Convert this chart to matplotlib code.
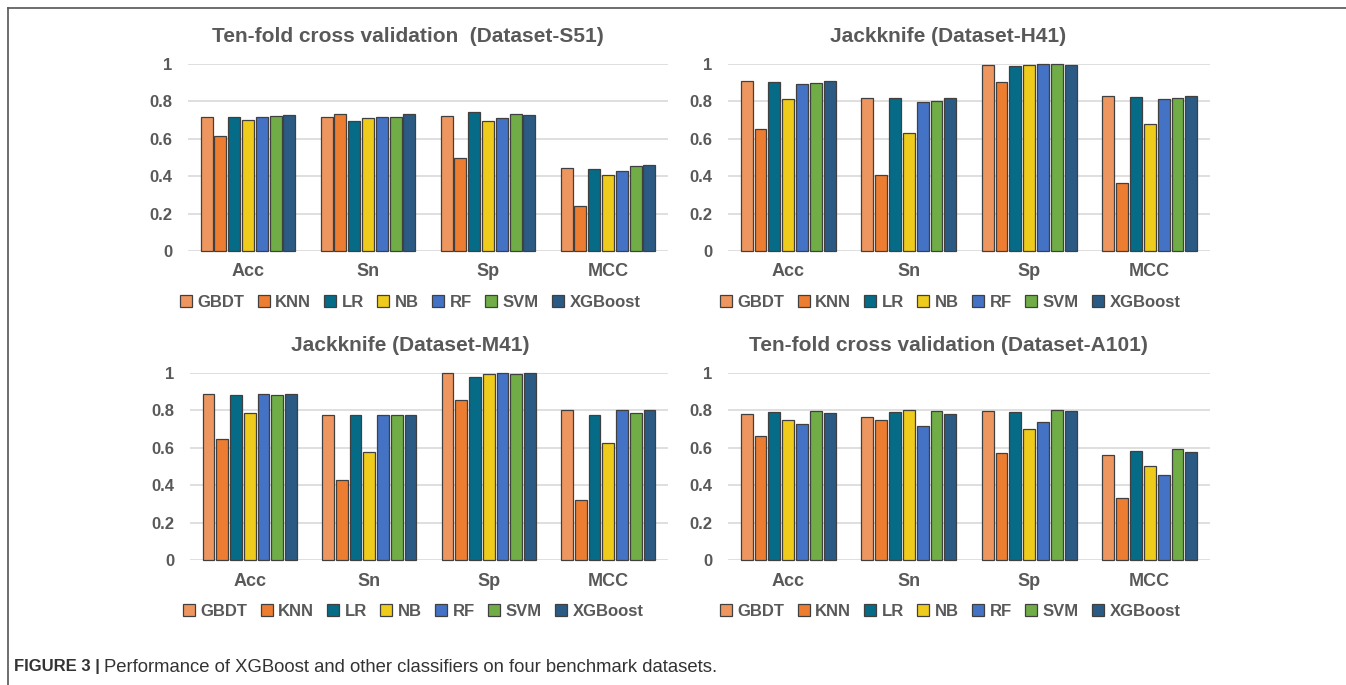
import numpy as np
import matplotlib
matplotlib.use("Agg")
import matplotlib.pyplot as plt
from matplotlib.lines import Line2D

plt.rcParams['font.family'] = ['Liberation Sans', 'DejaVu Sans']

metrics = ["Acc", "Sn", "Sp", "MCC"]
models = ["GBDT", "KNN", "LR", "NB", "RF", "SVM", "XGBoost"]
colors = ["#EE9660", "#ED7D31", "#056B86", "#EFCB1C", "#4472C4", "#70AD47", "#2B5A84"]

# rows = models, columns = Acc, Sn, Sp, MCC
s51 = [[0.718, 0.718, 0.723, 0.443],
       [0.614, 0.732, 0.498, 0.238],
       [0.718, 0.693, 0.741, 0.439],
       [0.702, 0.709, 0.696, 0.405],
       [0.714, 0.718, 0.709, 0.429],
       [0.723, 0.714, 0.732, 0.452],
       [0.729, 0.732, 0.729, 0.461]]
h41 = [[0.909, 0.818, 0.995, 0.827],
       [0.655, 0.405, 0.905, 0.361],
       [0.905, 0.818, 0.989, 0.823],
       [0.812, 0.630, 0.995, 0.677],
       [0.895, 0.796, 1.000, 0.812],
       [0.900, 0.802, 1.000, 0.818],
       [0.909, 0.818, 0.995, 0.830]]
m41 = [[0.889, 0.777, 1.000, 0.800],
       [0.646, 0.429, 0.857, 0.320],
       [0.880, 0.777, 0.980, 0.777],
       [0.786, 0.577, 0.995, 0.627],
       [0.889, 0.777, 1.000, 0.800],
       [0.884, 0.777, 0.995, 0.786],
       [0.889, 0.777, 1.000, 0.800]]
a101 = [[0.780, 0.764, 0.795, 0.559],
        [0.664, 0.750, 0.573, 0.332],
        [0.791, 0.791, 0.791, 0.582],
        [0.750, 0.800, 0.700, 0.505],
        [0.727, 0.714, 0.736, 0.452],
        [0.795, 0.795, 0.800, 0.591],
        [0.786, 0.782, 0.795, 0.577]]

titles = ["Ten-fold cross validation  (Dataset-S51)", "Jackknife (Dataset-H41)",
          "Jackknife (Dataset-M41)", "Ten-fold cross validation (Dataset-A101)"]
datasets = [s51, h41, m41, a101]

W, H = 1346, 685
fig = plt.figure(figsize=(W / 100, H / 100), dpi=100)
txt = "#595959"

# pixel boxes: left, top(=1.0), right, baseline
boxes = [(188, 64, 668, 251), (728, 64, 1210, 251),
         (190, 373, 668, 560), (728, 373, 1210, 560)]
title_pos = [(408, 36), (948, 36), (410, 345), (948, 345)]
leg_x = [410, 950, 413, 950]

x = np.arange(len(metrics))
slot = 0.115
bw = 0.099

for k in range(4):
    l, t, r, b = boxes[k]
    ax = fig.add_axes([l / W, 1 - b / H, (r - l) / W, (b - t) / H])
    vals = datasets[k]
    for i, m in enumerate(models):
        ax.bar(x + (i - 3) * slot, vals[i], width=bw, color=colors[i],
               edgecolor="#404040", linewidth=0.9, clip_on=False, zorder=3)
    ax.set_xlim(-0.5, 3.5)
    ax.set_ylim(0, 1)
    ax.set_yticks([0, 0.2, 0.4, 0.6, 0.8, 1.0])
    ax.set_yticklabels(["0", "0.2", "0.4", "0.6", "0.8", "1"])
    ax.set_xticks(x)
    ax.set_xticklabels(metrics)
    ax.yaxis.grid(True, color="#D9D9D9", linewidth=1.2, zorder=0)
    ax.set_axisbelow(True)
    for s in ax.spines.values():
        s.set_visible(False)
    ax.tick_params(axis="y", length=0, pad=11, labelsize=12, labelcolor=txt)
    ax.tick_params(axis="x", length=0, pad=9, labelsize=13, labelcolor=txt)
    for lab in ax.get_xticklabels() + ax.get_yticklabels():
        lab.set_fontweight("bold")
    tx, ty = title_pos[k]
    fig.text(tx / W, 1 - ty / H, titles[k], ha="center", va="center",
             fontsize=15, fontweight="bold", color=txt)
    handles = [Line2D([], [], marker="s", linestyle="none", markersize=9,
                      markerfacecolor=c, markeredgecolor="#404040", markeredgewidth=0.9)
               for c in colors]
    leg = ax.legend(handles, models, ncol=7, loc="center",
                    bbox_to_anchor=((leg_x[k] - l) / (r - l), -0.273),
                    frameon=False, handlelength=0.8, handletextpad=0.3,
                    columnspacing=0.75, prop={"weight": "bold", "size": 12})
    for tt in leg.get_texts():
        tt.set_color(txt)

# border lines (top and left)
fig.add_artist(Line2D([8 / W, 1], [1 - 8 / H, 1 - 8 / H], color="#555555", linewidth=1.2))
fig.add_artist(Line2D([8 / W, 8 / W], [0, 1 - 8 / H], color="#555555", linewidth=1.2))

fig.text(14 / W, 1 - 667 / H, "FIGURE 3 |", ha="left", va="center",
         fontsize=12, fontweight="bold", color="#333333")
fig.text(104 / W, 1 - 667 / H, "Performance of XGBoost and other classifiers on four benchmark datasets.",
         ha="left", va="center", fontsize=13.3, color="#333333")

fig.savefig("out.png", dpi=100, facecolor="white")
